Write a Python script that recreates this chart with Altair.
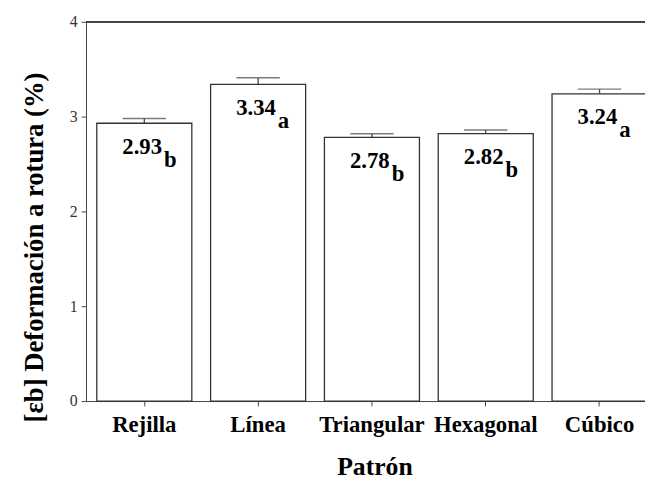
import altair as alt
import pandas as pd

patrones = ["Rejilla", "Línea", "Triangular", "Hexagonal", "Cúbico"]
valores = [2.93, 3.34, 2.78, 2.82, 3.24]
errores = [0.05, 0.07, 0.04, 0.04, 0.05]
letras = ["b", "a", "b", "b", "a"]
etiquetas = ["2.93", "3.34", "2.78", "2.82", "3.24"]
y_ticks = [0, 1, 2, 3, 4]

df = pd.DataFrame({
    "patron": patrones,
    "valor": valores,
    "sup": [v + e for v, e in zip(valores, errores)],
    "letra": letras,
    "etiqueta": etiquetas,
})

FONT = "Liberation Serif, Times New Roman, serif"
LINE = "#444444"

x_enc = alt.X(
    "patron:N",
    sort=patrones,
    scale=alt.Scale(range=[0, 579], paddingInner=0.165, paddingOuter=0.0946),
    axis=alt.Axis(
        title="Patrón",
        labelAngle=0,
        labelFont=FONT,
        labelFontWeight="bold",
        labelFontSize=23,
        labelColor="black",
        labelPadding=8,
        tickSize=5,
        tickColor=LINE,
        domainColor=LINE,
        titleFont=FONT,
        titleFontWeight="bold",
        titleFontSize=26,
        titleColor="black",
        titleX=292,
        titleY=74,
        titleAlign="center",
        titleBaseline="alphabetic",
        labelOverlap=False,
    ),
)

y_scale = alt.Scale(domain=[0, 4], nice=False)
y_axis = alt.Axis(
    title="[εb] Deformación a rotura (%)",
    values=y_ticks,
    format="d",
    grid=False,
    labelFont=FONT,
    labelFontSize=16,
    labelColor="#333333",
    labelPadding=4,
    tickSize=5,
    tickColor=LINE,
    domainColor=LINE,
    titleFont=FONT,
    titleFontWeight="bold",
    titleFontSize=27,
    titleColor="black",
    titleAngle=270,
    titleX=-44,
    titleY=228,
    titleAlign="center",
    titleBaseline="alphabetic",
)

base = alt.Chart(df)

err_rule = base.mark_rule(color=LINE, strokeWidth=1.3).encode(
    x=x_enc,
    y=alt.Y("valor:Q", scale=y_scale, axis=y_axis),
    y2="sup:Q",
)
err_cap = base.mark_tick(color=LINE, size=44, thickness=1.5).encode(
    x=alt.X("patron:N", sort=patrones),
    y=alt.Y("sup:Q"),
)
bars = base.mark_bar(fill="white", stroke="#333333", strokeWidth=1.3).encode(
    x=alt.X("patron:N", sort=patrones),
    y=alt.Y("valor:Q"),
)
main_txt = base.mark_text(
    font=FONT, fontWeight="bold", fontSize=23, color="black",
    align="right", baseline="alphabetic", dx=18, dy=31,
).encode(
    x=alt.X("patron:N", sort=patrones),
    y=alt.Y("valor:Q"),
    text="etiqueta:N",
)
sub_txt = base.mark_text(
    font=FONT, fontWeight="bold", fontSize=23, color="black",
    align="left", baseline="alphabetic", dx=20, dy=44,
).encode(
    x=alt.X("patron:N", sort=patrones),
    y=alt.Y("valor:Q"),
    text="letra:N",
)
top_frame = alt.Chart(df).mark_rule(color=LINE, strokeWidth=1.3).encode(
    x=alt.value(0), x2=alt.value(580), y=alt.value(0)
)

chart = (
    alt.layer(err_rule, err_cap, bars, main_txt, sub_txt, top_frame)
    .properties(
        width=566,
        height=384,
        autosize=alt.AutoSizeParams(type="none"),
        padding={"left": 79, "top": 11, "right": 0, "bottom": 80},
    )
    .configure_view(stroke=None)
    .configure(background="white")
)

chart.save("out.html", embed_options={"renderer": "svg", "actions": False})
